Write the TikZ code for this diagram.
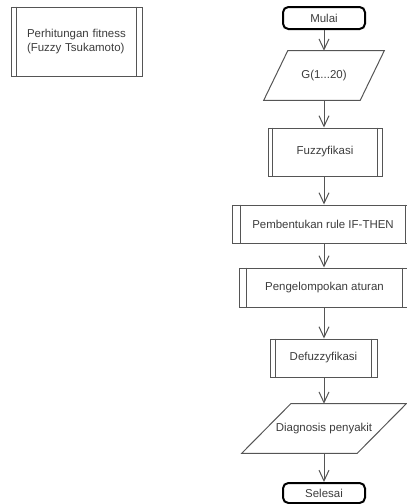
\documentclass[tikz,border=0pt]{standalone}
\usepackage{fontspec}
\setmainfont{Liberation Sans}
\usetikzlibrary{arrows.meta,calc}
\definecolor{linegray}{RGB}{85,85,85}
\definecolor{textgray}{RGB}{60,60,60}
\begin{document}
\begin{tikzpicture}[x=0.75pt,y=-0.75pt,
  every node/.style={font=\fontsize{8.6pt}{9.8pt}\selectfont, text=textgray},
  term/.style={draw=black, line width=1.5pt, rounded corners=4pt, minimum width=61.5pt, inner sep=0pt},
  proc/.style={draw=linegray, line width=0.75pt, inner sep=0pt},
  io/.style={inner sep=0pt},
  flow/.style={draw=linegray, line width=0.75pt, -{Straight Barb[length=8pt,width=7.5pt]}},
  side/.style={draw=linegray, line width=0.75pt}]
\clip (0,0) rectangle (407,504);
\useasboundingbox (0,0) rectangle (407,504);

% legend box
\node[proc, align=left, text width=74.25pt, inner xsep=12pt, minimum height=51.75pt] (legend) at (76.5,41.5)
  {Perhitungan fitness\\(Fuzzy Tsukamoto)};
\draw[side] ($(legend.north west)+(6,0)$) -- ($(legend.south west)+(6,0)$);
\draw[side] ($(legend.north east)+(-6,0)$) -- ($(legend.south east)+(-6,0)$);

% flow
\node[term, minimum height=16.5pt] (mulai) at (324,18) {Mulai};

\node[io, minimum width=90pt, minimum height=36.75pt] (g) at (324,75.5) {G(1...20)};
\draw[side] ($(g.north west)+(24,0)$) -- (g.north east) -- ($(g.south east)+(-24,0)$) -- (g.south west) -- cycle;

\node[proc, minimum width=85.5pt, minimum height=36pt] (fuz) at (325,152) {Fuzzyfikasi};
\draw[side] ($(fuz.north west)+(5,0)$) -- ($(fuz.south west)+(5,0)$);
\draw[side] ($(fuz.north east)+(-5,0)$) -- ($(fuz.south east)+(-5,0)$);

\node[proc, minimum width=136.5pt, minimum height=28.5pt] (rule) at (323,224) {Pembentukan rule IF-THEN};
\draw[side] ($(rule.north west)+(9,0)$) -- ($(rule.south west)+(9,0)$);
\draw[side] ($(rule.north east)+(-9,0)$) -- ($(rule.south east)+(-9,0)$);

\node[proc, minimum width=128.25pt, minimum height=29.25pt] (kel) at (324.5,287.5) {Pengelompokan aturan};
\draw[side] ($(kel.north west)+(8,0)$) -- ($(kel.south west)+(8,0)$);
\draw[side] ($(kel.north east)+(-8,0)$) -- ($(kel.south east)+(-8,0)$);

\node[proc, minimum width=80.25pt, minimum height=28.5pt] (defuz) at (323.5,358) {Defuzzyfikasi};
\draw[side] ($(defuz.north west)+(6,0)$) -- ($(defuz.south west)+(6,0)$);
\draw[side] ($(defuz.north east)+(-6,0)$) -- ($(defuz.south east)+(-6,0)$);

\node[io, minimum width=123pt, minimum height=36.75pt] (diag) at (324,428.5) {Diagnosis penyakit};
\draw[side] ($(diag.north west)+(49,0)$) -- (diag.north east) -- ($(diag.south east)+(-49,0)$) -- (diag.south west) -- cycle;

\node[term, minimum height=15pt] (selesai) at (324,493) {Selesai};

\draw[flow] (mulai.south) -- (g.north);
\draw[flow] (g.south) -- (mulai.south |- fuz.north);
\draw[flow] (mulai.south |- fuz.south) -- (mulai.south |- rule.north);
\draw[flow] (mulai.south |- rule.south) -- (mulai.south |- kel.north);
\draw[flow] (mulai.south |- kel.south) -- (mulai.south |- defuz.north);
\draw[flow] (mulai.south |- defuz.south) -- (diag.north);
\draw[flow] (diag.south) -- (selesai.north);
\end{tikzpicture}
\end{document}
